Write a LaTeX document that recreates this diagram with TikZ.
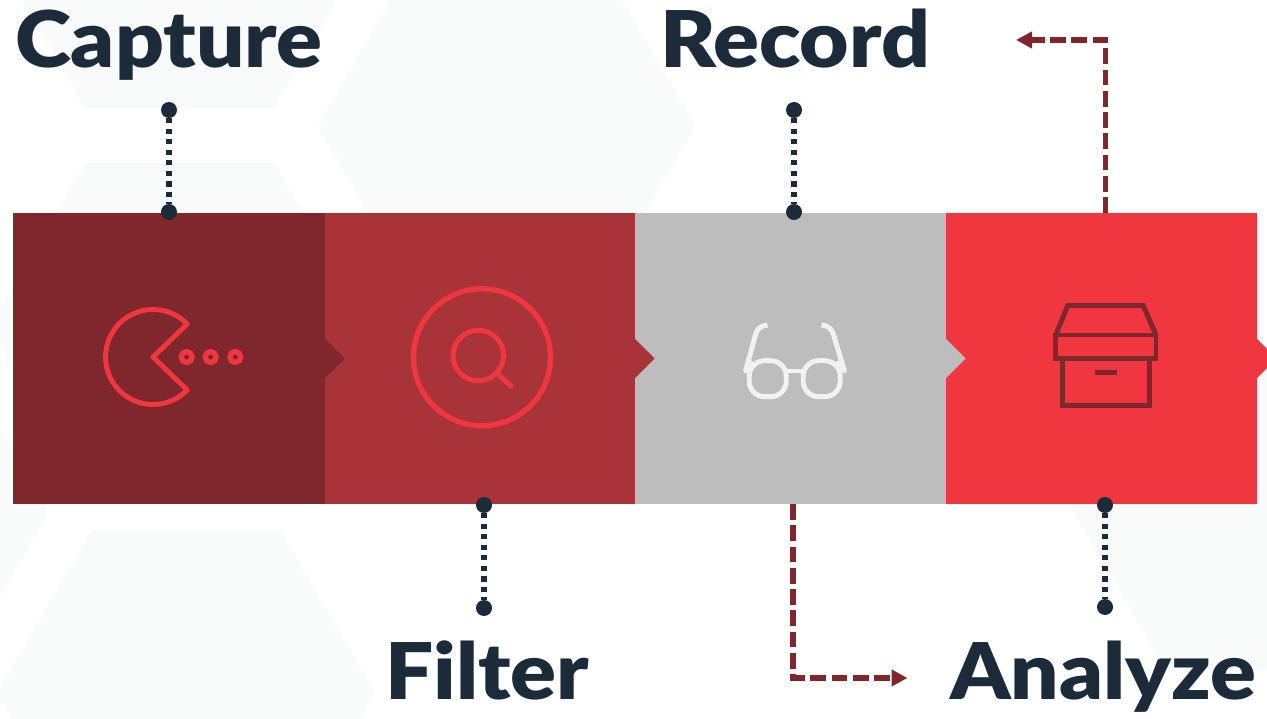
\documentclass[tikz,border=0pt]{standalone}
\usepackage{fontspec}
\setmainfont{Lato}[UprightFont=* Black,FakeStretch=1.09]
\usetikzlibrary{arrows.meta}
\definecolor{hexgray}{HTML}{F9FBFB}
\definecolor{inkblue}{HTML}{1B2B3A}
\definecolor{darkred}{HTML}{7F272C}
\definecolor{midred}{HTML}{A83339}
\definecolor{midgray}{HTML}{BDBDBD}
\definecolor{brightred}{HTML}{F0363F}
\definecolor{glassgray}{HTML}{F2F2F2}
\tikzset{
  stagebox/.style={anchor=north west,minimum height=5.82cm,inner sep=0pt,outer sep=0pt},
  pindot/.style={circle,fill=inkblue,minimum size=0.32cm,inner sep=0pt,outer sep=0pt},
  pinline/.style={inkblue,line width=2.9pt,dash pattern=on 3pt off 3pt},
  flowline/.style={darkred,line width=3pt,dash pattern=on 9pt off 3.1pt,-{Triangle[length=0.32cm,width=0.32cm]}},
  titletext/.style={anchor=base west,inner sep=0pt,outer sep=0pt,text=inkblue,font=\fontsize{44.5}{45}\selectfont},
  iconline/.style={line width=2.8pt}
}
\begin{document}
\begin{tikzpicture}[x=0.02cm,y=-0.02cm]
  \useasboundingbox (0,0) rectangle (1267,719);
  \clip (0,0) rectangle (1267,719);
  % background hexagons
  \foreach \cx/\cy in {179.5/-55,179.5/326,506.5/126,186/693,1260/507} {
    \fill[hexgray,rounded corners=2pt] (\cx-189,\cy) -- (\cx-94.5,\cy-163) -- (\cx+94.5,\cy-163) -- (\cx+189,\cy) -- (\cx+94.5,\cy+163) -- (\cx-94.5,\cy+163) -- cycle;
  }
  \fill[hexgray] (48,513) -- (-10,413) -- (-10,614) -- cycle;
  % stages
  \node[stagebox,fill=darkred,minimum width=6.24cm] (capturebox) at (13,213) {};
  \node[stagebox,fill=midred,minimum width=6.2cm] (filterbox) at (325,213) {};
  \node[stagebox,fill=midgray,minimum width=6.22cm] (recordbox) at (635,213) {};
  \node[stagebox,fill=brightred,minimum width=6.22cm] (analyzebox) at (946,213) {};
  % notches
  \foreach \x/\c in {325/darkred,635/midred,946/midgray,1257/brightred} {
    \fill[\c] (\x,339) -- (\x+19.5,358.5) -- (\x,378) -- cycle;
  }
  % capture icon
  \draw[brightred,iconline,line join=round] (187.2,324) arc[start angle=44,end angle=316,radius=0.95cm] -- (153,357) -- cycle;
  \foreach \x in {186.7,210.7,235.3} {
    \draw[brightred,line width=3pt] (\x,357) circle (0.11cm);
  }
  % filter icon
  \draw[brightred,line width=3pt] (482,357.3) circle (1.37cm);
  \draw[brightred,line width=2.8pt] (478.3,355.5) circle (0.505cm);
  \draw[brightred,line width=2.8pt] (497.3,373.3) -- (512.3,387.3);
  % record icon
  \foreach \x in {767.7,821.7} {
    \draw[glassgray,iconline,rounded corners=0.31cm] (\x-18.5,360.7) rectangle (\x+18.5,396.7);
  }
  \draw[glassgray,iconline] (787,371) -- (802,371);
  \draw[glassgray,iconline,line join=round] (753,362) -- (745.5,371) -- (756,333) .. controls (758,328) and (762,325.5) .. (767.5,325);
  \draw[glassgray,iconline,line join=round] (836,362) -- (844.5,371) -- (833,333) .. controls (831,328) and (827,325.5) .. (821.5,325);
  % analyze icon
  \draw[darkred,iconline,line join=miter] (1055.7,335) -- (1067.7,305.7) -- (1143.3,305.7) -- (1156,335);
  \draw[darkred,iconline] (1055.7,335) rectangle (1156,358.3);
  \draw[darkred,iconline] (1062.3,358.3) rectangle (1149.3,405.7);
  \fill[darkred] (1095,370) rectangle (1116.7,375);
  % titles
  \node[titletext] (capture) at (15,68) {Capture};
  \node[titletext] (record) at (660,68) {Record};
  \node[titletext] (filter) at (385,699) {Filter};
  \node[titletext] (analyze) at (950,699) {Analyze};
  % pins
  \node[pindot] (capturetop) at (169,110) {};
  \node[pindot] (capturelow) at (169,212) {};
  \node[pindot] (recordtop) at (794,110) {};
  \node[pindot] (recordlow) at (794,212) {};
  \node[pindot] (filtertop) at (484,505) {};
  \node[pindot] (filterlow) at (484,608) {};
  \node[pindot] (analyzetop) at (1105,505) {};
  \node[pindot] (analyzelow) at (1105,607) {};
  \draw[pinline] (capturetop) -- (capturelow);
  \draw[pinline] (recordtop) -- (recordlow);
  \draw[pinline] (filtertop) -- (filterlow);
  \draw[pinline] (analyzetop) -- (analyzelow);
  % flow arrows
  \coordinate (analyzeout) at (1105.5,213);
  \coordinate (analyzeend) at (1016,40);
  \coordinate (recordout) at (793,504);
  \coordinate (recordend) at (907.5,678);
  \draw[flowline] (analyzeout) |- (analyzeend);
  \draw[flowline] (recordout) |- (recordend);
\end{tikzpicture}
\end{document}
